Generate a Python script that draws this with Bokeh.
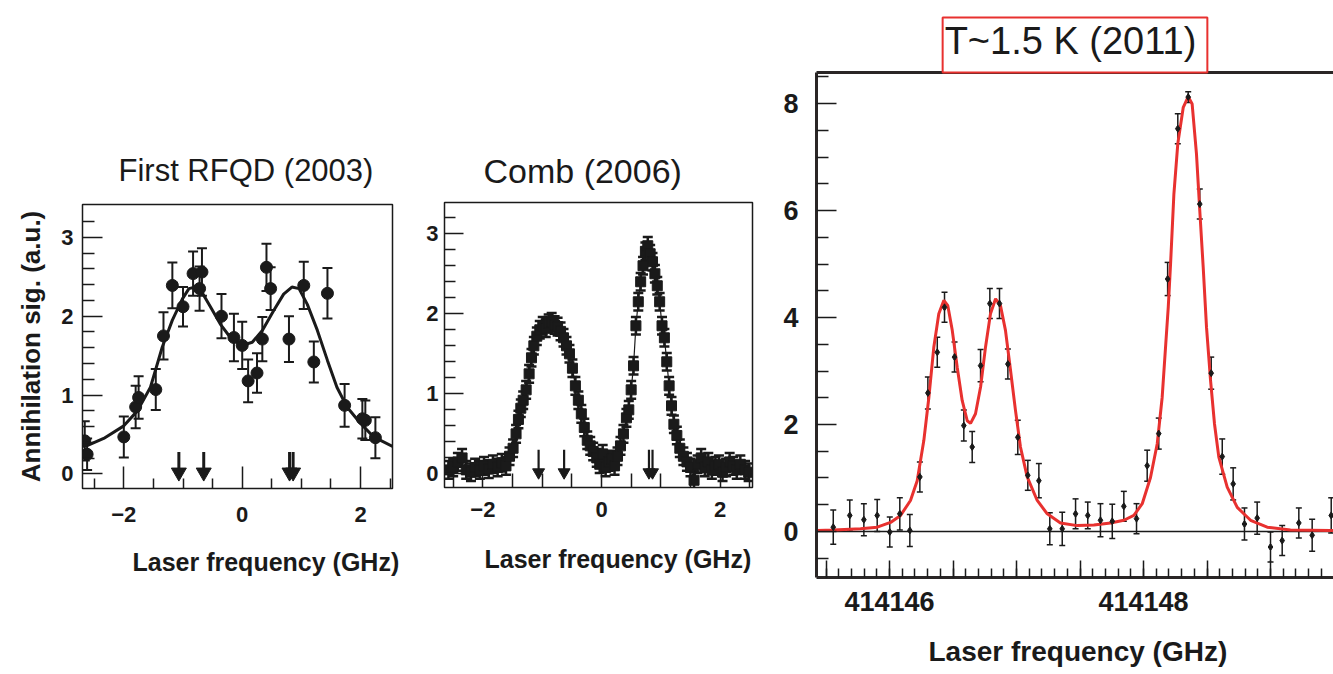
from bokeh.plotting import figure
from bokeh.layouts import row
from bokeh.models import (ColumnDataSource, Whisker, TeeHead, FixedTicker, LinearAxis,
                          Title, Range1d, CustomJSTickFormatter)
from bokeh.embed import file_html
from bokeh.resources import INLINE

FONT = "Liberation Sans"
INK = "#1a1a1a"
RED = "#e8312f"

# ---------------- Panel 1: First RFQD (2003) ----------------
rfqd_x = [-2.66, -2.62, -2.0, -1.80, -1.75, -1.46, -1.33, -1.18, -1.0, -0.83, -0.68, -0.72,
          -0.35, -0.14, 0.0, 0.10, 0.25, 0.34, 0.41, 0.48, 0.79, 1.04, 1.21, 1.44, 1.73,
          2.03, 2.08, 2.25]
rfqd_y = [0.42, 0.25, 0.47, 0.85, 0.97, 1.07, 1.75, 2.39, 2.12, 2.54, 2.56, 2.35,
          2.0, 1.73, 1.63, 1.18, 1.28, 1.71, 2.62, 2.35, 1.71, 2.39, 1.42, 2.29, 0.87,
          0.70, 0.68, 0.46]
rfqd_err = [0.25, 0.2, 0.26, 0.27, 0.27, 0.26, 0.3, 0.29, 0.25, 0.28, 0.3, 0.28,
            0.28, 0.3, 0.3, 0.27, 0.25, 0.28, 0.3, 0.27, 0.29, 0.3, 0.26, 0.32, 0.27,
            0.25, 0.25, 0.26]
rfqd_fit_x = [-2.70, -2.62, -2.34, -2.0, -1.77, -1.55, -1.35, -1.18, -1.01, -0.90, -0.79, -0.70,
              -0.53, -0.37, -0.20, 0.0, 0.17, 0.34, 0.53, 0.70, 0.84, 0.96, 1.10, 1.27,
              1.44, 1.60, 1.77, 2.0, 2.22, 2.54]
rfqd_fit_y = [0.35, 0.36, 0.45, 0.61, 0.80, 1.10, 1.61, 1.95, 2.22, 2.35, 2.37, 2.33,
              2.11, 1.90, 1.73, 1.63, 1.67, 1.82, 2.07, 2.28, 2.37, 2.35, 2.15, 1.82,
              1.44, 1.10, 0.85, 0.64, 0.47, 0.35]
rfqd_arrows = [-1.07, -0.65, 0.80, 0.86]

# ---------------- Panel 2: Comb (2006) ----------------
comb_x = [-2.58, -2.50, -2.42, -2.35, -2.28, -2.20, -2.13, -2.05, -1.98, -1.90, -1.83, -1.75,
          -1.68, -1.61, -1.55, -1.49, -1.44, -1.40, -1.36, -1.32, -1.27, -1.22, -1.18, -1.14,
          -1.09, -1.04, -0.99, -0.94, -0.89, -0.84, -0.79, -0.74, -0.69, -0.64, -0.59, -0.54,
          -0.49, -0.44, -0.39, -0.34, -0.29, -0.24, -0.19, -0.14, -0.08, -0.03, 0.02, 0.07,
          0.12, 0.17, 0.22, 0.27, 0.32, 0.37, 0.42, 0.46, 0.50, 0.54, 0.58, 0.62,
          0.66, 0.70, 0.74, 0.78, 0.82, 0.86, 0.90, 0.94, 0.98, 1.02, 1.06, 1.10,
          1.14, 1.18, 1.22, 1.27, 1.32, 1.38, 1.44, 1.50, 1.56, 1.62, 1.68, 1.74,
          1.80, 1.86, 1.92, 1.98, 2.04, 2.10, 2.16, 2.22, 2.28, 2.34, 2.42, 2.48]
comb_y = [0.05, 0.08, 0.15, 0.20, 0.05, 0.02, 0.08, 0.05, 0.10, 0.06, 0.12, 0.08,
          0.14, 0.10, 0.22, 0.32, 0.50, 0.68, 0.82, 0.92, 1.05, 1.25, 1.45, 1.60,
          1.72, 1.80, 1.85, 1.82, 1.88, 1.90, 1.86, 1.84, 1.78, 1.70, 1.60, 1.50,
          1.32, 1.10, 0.92, 0.75, 0.58, 0.42, 0.35, 0.28, 0.20, 0.12, 0.25, 0.08,
          0.15, 0.18, 0.10, 0.22, 0.35, 0.50, 0.70, 0.80, 1.05, 1.35, 1.85, 2.15,
          2.40, 2.60, 2.78, 2.85, 2.75, 2.65, 2.50, 2.35, 2.15, 1.85, 1.70, 1.40,
          1.10, 0.85, 0.62, 0.48, 0.32, 0.22, 0.15, 0.08, -0.08, 0.12, 0.20, 0.08,
          0.15, 0.05, 0.10, 0.12, 0.02, 0.08, 0.15, 0.10, 0.05, 0.12, 0.05, 0.02]
comb_err = 0.11
comb_arrows = [-1.06, -0.63, 0.80, 0.86]

# ---------------- Panel 3: T~1.5 K (2011) ----------------
k15_x = [414145.557, 414145.687, 414145.798, 414145.903, 414146.002, 414146.081, 414146.160,
         414146.239, 414146.302, 414146.376, 414146.433, 414146.512, 414146.585, 414146.651,
         414146.717, 414146.790, 414146.866, 414146.932, 414147.010, 414147.089, 414147.176,
         414147.262, 414147.360, 414147.465, 414147.561, 414147.661, 414147.754, 414147.845,
         414147.945, 414148.029, 414148.120, 414148.190, 414148.270, 414148.352, 414148.443,
         414148.533, 414148.620, 414148.706, 414148.795, 414148.895, 414149.000, 414149.092,
         414149.223, 414149.328, 414149.478]
k15_y = [0.08, 0.30, 0.22, 0.30, -0.01, 0.33, 0.02,
         1.02, 2.59, 3.35, 4.19, 3.26, 1.98, 1.58,
         3.10, 4.26, 4.26, 3.13, 1.76, 1.05, 0.95,
         0.05, 0.05, 0.33, 0.30, 0.21, 0.19, 0.47,
         0.24, 1.23, 1.83, 4.72, 7.53, 8.12, 6.12,
         2.96, 1.40, 0.89, 0.14, 0.25, -0.29, -0.17,
         0.16, -0.07, 0.30]
k15_err = [0.32, 0.29, 0.30, 0.30, 0.28, 0.30, 0.30,
           0.28, 0.30, 0.28, 0.28, 0.28, 0.29, 0.29,
           0.30, 0.28, 0.28, 0.28, 0.32, 0.28, 0.32,
           0.30, 0.31, 0.28, 0.25, 0.31, 0.32, 0.28,
           0.28, 0.29, 0.29, 0.31, 0.28, 0.10, 0.28,
           0.30, 0.33, 0.30, 0.30, 0.30, 0.28, 0.28,
           0.28, 0.30, 0.33]
k15_fit_x = [414145.43, 414145.56, 414145.772, 414145.903, 414146.008, 414146.087, 414146.165,
             414146.218, 414146.270, 414146.310, 414146.349, 414146.388, 414146.428, 414146.459,
             414146.494, 414146.533, 414146.572, 414146.612, 414146.638, 414146.677, 414146.717,
             414146.756, 414146.795, 414146.835, 414146.874, 414146.913, 414146.953, 414146.992,
             414147.031, 414147.084, 414147.163, 414147.242, 414147.346, 414147.478, 414147.609,
             414147.740, 414147.845, 414147.924, 414147.990, 414148.055, 414148.108, 414148.147,
             414148.175, 414148.195, 414148.213, 414148.239, 414148.270, 414148.313, 414148.352,
             414148.383, 414148.417, 414148.443, 414148.470, 414148.496, 414148.528, 414148.559,
             414148.593, 414148.659, 414148.738, 414148.843, 414148.974, 414149.157, 414149.472,
             414149.52]
k15_fit_y = [0.02, 0.03, 0.05, 0.08, 0.17, 0.30, 0.58,
             0.95, 1.70, 2.51, 3.45, 4.07, 4.32, 4.22,
             3.76, 3.07, 2.45, 2.07, 2.02, 2.20, 2.70,
             3.45, 4.07, 4.35, 4.22, 3.76, 3.01, 2.26,
             1.58, 1.02, 0.58, 0.33, 0.16, 0.11, 0.12,
             0.16, 0.21, 0.30, 0.52, 1.01, 1.64, 2.51,
             3.50, 4.20, 5.00, 6.30, 7.25, 7.93, 8.13,
             7.99, 7.06, 6.00, 4.94, 3.82, 2.82, 2.01,
             1.39, 0.83, 0.45, 0.21, 0.08, 0.03, 0.02,
             0.02]


def make_fig(xr, yr, fw, fh, bl, br, bt, bb):
    p = figure(x_range=Range1d(*xr), y_range=Range1d(*yr), frame_width=fw, frame_height=fh,
               min_border_left=bl, min_border_right=br, min_border_top=bt, min_border_bottom=bb,
               toolbar_location=None, output_backend="svg")
    if "frame_align" in p.properties():
        p.frame_align = False
    p.grid.visible = False
    p.background_fill_color = "white"
    p.border_fill_color = "white"
    return p


def style_axis(ax, ticks, minor, maj_in, min_in, size, standoff, lw=1.5):
    ax.ticker = FixedTicker(ticks=ticks, minor_ticks=minor)
    ax.major_tick_in = maj_in
    ax.major_tick_out = 0
    ax.minor_tick_in = min_in
    ax.minor_tick_out = 0
    ax.major_tick_line_color = INK
    ax.minor_tick_line_color = INK
    ax.major_tick_line_width = lw
    ax.minor_tick_line_width = lw
    ax.major_label_text_font = FONT
    ax.major_label_text_font_style = "bold"
    ax.major_label_text_font_size = size
    ax.major_label_text_color = INK
    ax.major_label_standoff = standoff


def style_title(p, text, size, standoff, align="left", offset=0):
    p.title.text = text
    p.title.align = align
    p.title.offset = offset
    p.title.text_font = FONT
    p.title.text_font_style = "normal"
    p.title.text_font_size = size
    p.title.text_color = INK
    p.title.standoff = standoff


def xlabel(p, offset, size, standoff):
    p.add_layout(Title(text="Laser frequency (GHz)", align="left", offset=offset,
                       standoff=standoff, text_font=FONT, text_font_style="bold",
                       text_font_size=size, text_color=INK), "below")


def add_errorbars(p, xs, ys, errs, cap, lw):
    src = ColumnDataSource(dict(x=xs, lo=[y - e for y, e in zip(ys, errs)],
                                hi=[y + e for y, e in zip(ys, errs)]))
    p.add_layout(Whisker(source=src, base="x", lower="lo", upper="hi",
                         line_color=INK, line_width=lw,
                         upper_head=TeeHead(size=cap, line_color=INK, line_width=lw),
                         lower_head=TeeHead(size=cap, line_color=INK, line_width=lw)))


def add_arrows(p, xs, top, head_y, lw, head):
    p.segment(x0=xs, y0=[top] * len(xs), x1=xs, y1=[head_y] * len(xs),
              line_color=INK, line_width=lw)
    p.scatter(xs, [head_y] * len(xs), marker="inverted_triangle", size=head,
              fill_color=INK, line_color=INK)


# ---------- figure 1 ----------
p1 = make_fig((-2.698, 2.539), (-0.184, 3.416), 310, 284, 82, 28, 204, 186)
p1.outline_line_color = INK
p1.outline_line_width = 1.5
style_title(p1, "First RFQD (2003)", "31px", 34, "left", 36)
style_axis(p1.xaxis[0], [-2, 0, 2], [-2.5, -1.5, -1, -0.5, 0.5, 1, 1.5, 2.5], 22, 10, "22px", 18)
style_axis(p1.yaxis[0], [0, 1, 2, 3],
           [0.2, 0.4, 0.6, 0.8, 1.2, 1.4, 1.6, 1.8, 2.2, 2.4, 2.6, 2.8, 3.2], 20, 12, "22px", 9)
for ax in (p1.xaxis[0], p1.yaxis[0]):
    ax.axis_line_color = None
p1.yaxis[0].axis_label = "Annihilation sig. (a.u.)"
p1.yaxis[0].axis_label_text_font = FONT
p1.yaxis[0].axis_label_text_font_style = "bold"
p1.yaxis[0].axis_label_text_font_size = "26px"
p1.yaxis[0].axis_label_text_color = INK
p1.yaxis[0].axis_label_standoff = 12
p1.line(rfqd_fit_x, rfqd_fit_y, line_color=INK, line_width=3)
add_errorbars(p1, rfqd_x, rfqd_y, rfqd_err, 10, 2)
p1.scatter(rfqd_x, rfqd_y, marker="circle", size=12, fill_color=INK, line_color=INK)
add_arrows(p1, rfqd_arrows, 0.28, 0.02, 3, 15)
xlabel(p1, 50, "25px", 43)

# ---------- figure 2 ----------
p2 = make_fig((-2.646, 2.545), (-0.17, 3.39), 308, 285, 24, 18, 202, 187)
p2.outline_line_color = INK
p2.outline_line_width = 1.5
style_title(p2, "Comb (2006)", "34px", 26, "left", 39)
style_axis(p2.xaxis[0], [-2, 0, 2], [-2.5, -1.5, -1, -0.5, 0.5, 1, 1.5, 2.5], 14, 14, "22px", 14)
style_axis(p2.yaxis[0], [0, 1, 2, 3],
           [0.2, 0.4, 0.6, 0.8, 1.2, 1.4, 1.6, 1.8, 2.2, 2.4, 2.6, 2.8, 3.2], 19, 11, "22px", 6)
for ax in (p2.xaxis[0], p2.yaxis[0]):
    ax.axis_line_color = None
p2.line(comb_x, comb_y, line_color=INK, line_width=1.2)
add_errorbars(p2, comb_x, comb_y, [comb_err] * len(comb_x), 10, 2.5)
p2.scatter(comb_x, comb_y, marker="square", size=10, fill_color=INK, line_color=INK)
add_arrows(p2, comb_arrows, 0.30, 0.02, 2.2, 12)
xlabel(p2, 40, "25px", 47)

# ---------- figure 3 ----------
p3 = make_fig((414145.425, 414149.496), (-0.86, 8.58), 517, 505, 46, 0, 72, 97)
p3.outline_line_color = None
x_major = [414145.5 + 0.5 * i for i in range(8)]
x_minor = [414145.5 + 0.1 * i for i in range(40)]
style_axis(p3.xaxis[0], x_major, x_minor, 17, 9, "27px", 14)
p3.xaxis[0].formatter = CustomJSTickFormatter(
    code="const r = Math.round(tick); return (Math.abs(tick - r) < 1e-6 && r % 2 === 0) ? String(r) : '';")
style_axis(p3.yaxis[0], [0, 2, 4, 6, 8],
           [-0.5, 0.5, 1, 1.5, 2.5, 3, 3.5, 4.5, 5, 5.5, 6.5, 7, 7.5, 8.5], 20, 12, "27px", 18)
for ax in (p3.xaxis[0], p3.yaxis[0]):
    ax.axis_line_color = "#2a2626"
    ax.axis_line_width = 3
top_ax = LinearAxis(ticker=FixedTicker(ticks=[]), major_label_text_font_size="0px",
                    major_tick_in=0, major_tick_out=0, minor_tick_in=0, minor_tick_out=0,
                    axis_line_color="#2a2626", axis_line_width=3, major_label_standoff=0)
p3.add_layout(top_ax, "above")
style_title(p3, "T~1.5 K (2011)", "38px", 0, "center", 0)
p3.title.border_line_color = RED
p3.title.border_line_width = 2
p3.title.background_fill_color = "white"
p3.title.padding = (2, 11, 2, 11)
p3.hspan(y=[0], line_color=INK, line_width=1.5)
p3.line(k15_fit_x, k15_fit_y, line_color=RED, line_width=3)
add_errorbars(p3, k15_x, k15_y, k15_err, 6, 1.5)
p3.scatter(k15_x, k15_y, marker="diamond", size=7, fill_color=INK, line_color=INK)
xlabel(p3, 112, "28px", 40)

layout = row(p1, p2, p3, spacing=0)
open("out.html", "w").write(file_html(layout, INLINE))
